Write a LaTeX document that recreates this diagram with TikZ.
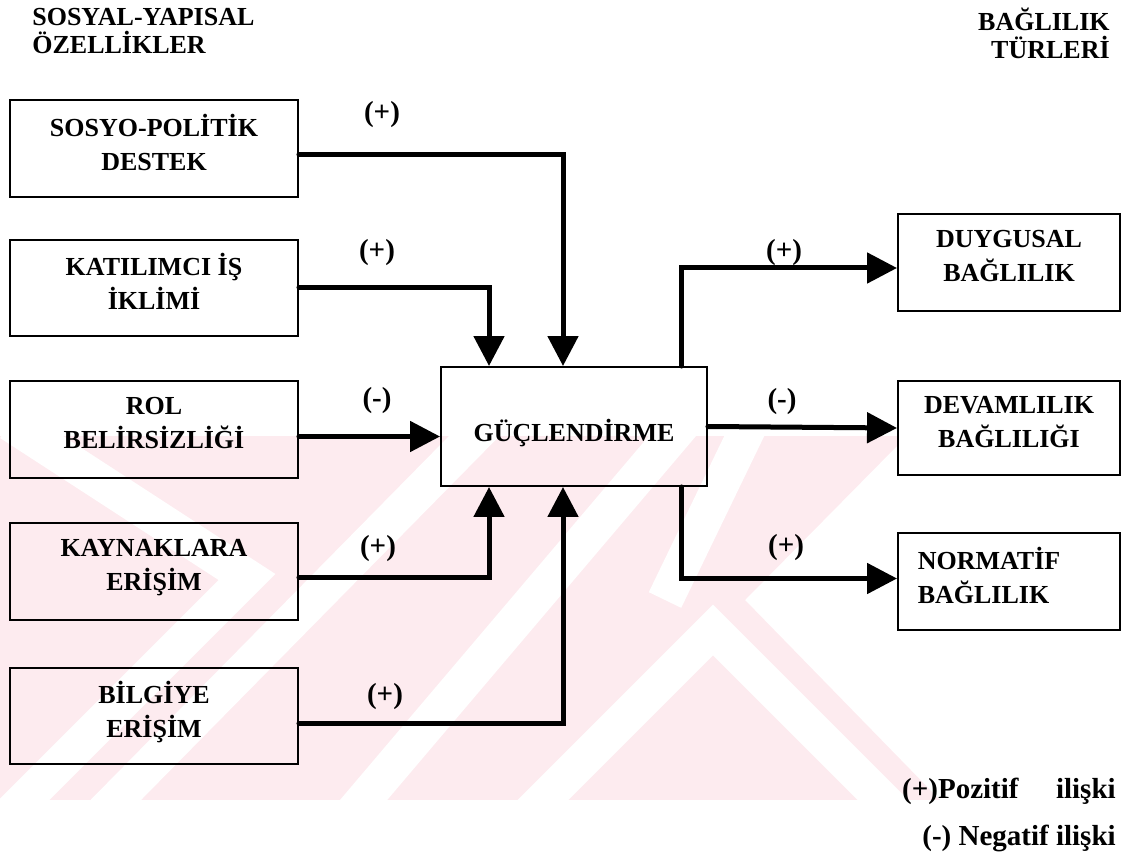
\documentclass[tikz,border=0pt]{standalone}
\usepackage{fontspec}
\setmainfont{Liberation Serif}
\usetikzlibrary{arrows.meta}
\definecolor{filigran}{RGB}{253,235,239}

\begin{document}
\begin{tikzpicture}[line cap=round,x=0.02cm,y=-0.02cm,
  kutu/.style={draw,line width=0.04cm,minimum width=5.76cm,minimum height=1.94cm,align=center,inner sep=0pt,
    font=\fontsize{14.8}{19.3}\selectfont\bfseries,execute at end node={\rule[-0.26cm]{0pt}{0pt}}},
  sagkutu/.style={kutu,minimum width=4.44cm,minimum height=1.96cm},
  ok/.style={line width=0.1cm,-{Triangle[length=0.6cm,width=0.6cm]}},
  serit/.style={white,line width=0.72cm,line cap=butt},
  isaret/.style={font=\fontsize{16.5}{18}\selectfont\bfseries,inner sep=0pt},
  baslik/.style={font=\fontsize{14.8}{15.9}\selectfont\bfseries,inner sep=0pt},
  aciklama/.style={font=\fontsize{16.5}{18}\selectfont\bfseries,inner sep=0pt,anchor=east}]
\useasboundingbox (0,0) rectangle (1125,858);
% filigran
\begin{scope}
\clip (0,436) -- (898,436) -- (898,445) -- (745,600) -- (940,800) -- (0,800) -- cycle;
\fill[filigran] (0,436) rectangle (940,800);
\draw[serit] (10,423) -- (247,577) -- (0,824);
\draw[serit] (490,420) -- (100,816);
\draw[serit] (686,420) -- (350,816);
\draw[serit] (752,420) -- (665,600);
\draw[serit] (523,820) -- (713,630) -- (903,820);
\end{scope}
% basliklar
\node[baslik,anchor=north west,align=left] (solbas) at (32,8) {SOSYAL-YAPISAL\\ÖZELLİKLER};
\node[baslik,anchor=north east,align=right] (sagbas) at (1110,8) {BAĞLILIK\\TÜRLERİ};
% sol kutular
\node[kutu] (sosyo) at (154,148.5) {SOSYO-POLİTİK\\DESTEK};
\node[kutu] (katilim) at (154,288) {KATILIMCI İŞ\\İKLİMİ};
\node[kutu] (rol) at (154,429.5) {ROL\\BELİRSİZLİĞİ};
\node[kutu] (kaynak) at (154,571.5) {KAYNAKLARA\\ERİŞİM};
\node[kutu] (bilgi) at (154,716) {BİLGİYE\\ERİŞİM};
% orta kutu
\node[kutu,minimum width=5.32cm,minimum height=2.38cm,execute at end node={},text height=0.68cm,text depth=0.1cm] (guc) at (574,426.5) {GÜÇLENDİRME};
% sag kutular
\node[sagkutu] (duygu) at (1009,262.5) {DUYGUSAL\\BAĞLILIK};
\node[sagkutu,minimum height=1.9cm] (devam) at (1009,428) {DEVAMLILIK\\BAĞLILIĞI};
\node[sagkutu,align=left] (norm) at (1009,581.5) {NORMATİF\hspace*{0.8cm}\\BAĞLILIK};
% oklar
\coordinate (r3) at ([yshift=-0.14cm]rol.east);
\draw[ok] ([yshift=-0.12cm]sosyo.east) -| ([xshift=-0.22cm]guc.north);
\draw[ok] ([yshift=0.02cm]katilim.east) -| ([xshift=-1.7cm]guc.north);
\draw[ok] (r3) -- (r3 -| guc.west);
\draw[ok] ([yshift=-0.12cm]kaynak.east) -| ([xshift=-1.7cm]guc.south);
\draw[ok] ([yshift=-0.14cm]bilgi.east) -| ([xshift=-0.22cm]guc.south);
\draw[ok] ([xshift=2.16cm]guc.north) |- ([yshift=-0.11cm]duygu.west);
\draw[ok] (guc.east) -- (devam.west);
\draw[ok] ([xshift=2.16cm]guc.south) |- ([yshift=0.06cm]norm.west);
% isaretler
\node[isaret] (e1) at (382,115) {(+)};
\node[isaret] (e2) at (377,253) {(+)};
\node[isaret] (e3) at (377,401) {(-)};
\node[isaret] (e4) at (378,549) {(+)};
\node[isaret] (e5) at (385,697) {(+)};
\node[isaret] (e6) at (784,253) {(+)};
\node[isaret] (e7) at (782,402) {(-)};
\node[isaret] (e8) at (786,548) {(+)};
% aciklama
\node[aciklama] (poz) at (1116,791) {(+)Pozitif\hspace{0.75cm}ilişki};
\node[aciklama] (neg) at (1116,838) {(-) Negatif ilişki};
\end{tikzpicture}
\end{document}
